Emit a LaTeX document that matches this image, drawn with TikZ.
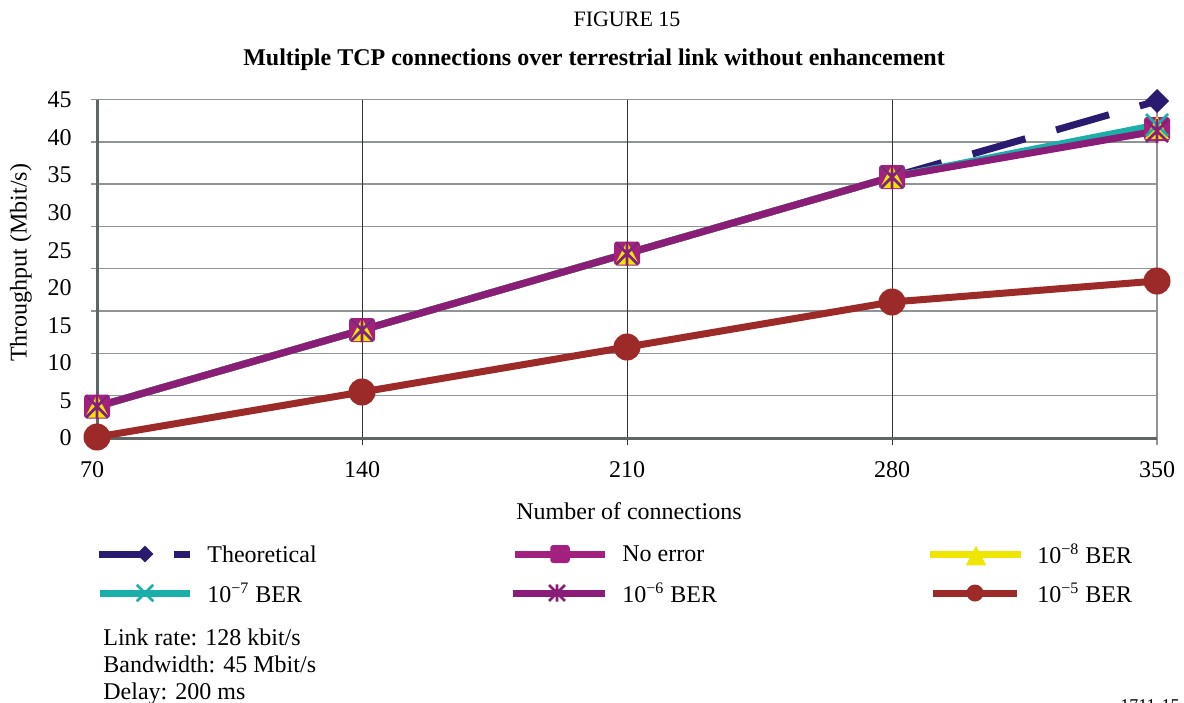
\documentclass[tikz,border=0pt]{standalone}
\usepackage{fontspec}
\setmainfont{Liberation Serif}

\definecolor{cNavy}{RGB}{43,27,112}
\definecolor{cMag}{RGB}{164,32,126}
\definecolor{cYel}{RGB}{238,230,0}
\definecolor{cTeal}{RGB}{26,175,168}
\definecolor{cPur}{RGB}{138,29,120}
\definecolor{cRed}{RGB}{155,42,40}
\definecolor{cGrid}{RGB}{143,148,148}
\definecolor{cAxis}{RGB}{94,102,102}
\definecolor{cVgrid}{RGB}{47,53,53}

\tikzset{
  % plot markers
  diamk/.pic={\fill[cNavy] (0,-12) -- (12,0) -- (0,12) -- (-12,0) -- cycle;},
  sqmk/.pic={\fill[cMag, rounded corners=1.5pt] (-13,-12) rectangle (13,12);},
  trimk/.pic={\fill[cYel] (0,-12) -- (12,11) -- (-12,11) -- cycle;},
  xmk/.pic={\draw[cTeal, line width=1.4pt] (-11,-11) -- (11,11) (-11,11) -- (11,-11);},
  astmk/.pic={\draw[cPur, line width=1.4pt] (-11,-11) -- (11,11) (-11,11) -- (11,-11) (0,-12) -- (0,12);},
  dotmk/.pic={\fill[cRed] (0,0) circle (13.5);},
  % lines
  series/.style={line width=3.5pt, line join=round},
  theo/.style={series, cNavy, dash pattern=on 27.5pt off 16pt, dash phase=22.9pt},
  hgrid/.style={cGrid, line width=0.75pt},
  vgrid/.style={cVgrid, line width=0.5pt},
  axisline/.style={cAxis, line width=1.5pt},
  ylab/.style={anchor=east, inner sep=0pt},
  xlab/.style={anchor=center, inner sep=0pt},
  legtext/.style={anchor=west, inner sep=0pt},
  note/.style={anchor=base west, inner sep=0pt},
}

\begin{document}
\begin{tikzpicture}[x=0.5pt, y=-0.5pt, font=\fontsize{12}{14}\selectfont]
\useasboundingbox (0,0) rectangle (1184,702);
\fill[white] (0,0) rectangle (1184,702);

% headings
\node[anchor=base, inner sep=0pt, font=\fontsize{11}{13}\selectfont] (fig) at (627,26) {FIGURE 15};
\node[anchor=base, inner sep=0pt, font=\fontsize{12}{14}\selectfont\bfseries] (title) at (594,65)
  {Multiple TCP connections over terrestrial link without enhancement};

% horizontal grid lines (with ticks on the left)
\foreach \k in {0,...,7} {
  \draw[hgrid] (91,{99.5+42.3*\k}) -- (1157,{99.5+42.3*\k});
}
% right border
\draw[hgrid] (1157,99.5) -- (1157,445);
% vertical grid lines (with ticks below)
\foreach \gx in {362,627,892} {
  \draw[vgrid] (\gx,99.5) -- (\gx,445);
}
% axes
\draw[axisline] (97,99.5) -- (97,445);
\draw[axisline] (91,438) -- (1157,438);

% y tick labels
\foreach \v/\yy in {45/100,40/138,35/175,30/213,25/251,20/288,15/326,10/363,5/401,0/438} {
  \node[ylab] at (72,\yy) {\v};
}
% x tick labels
\node[xlab] (x70) at (92,470) {70};
\node[xlab] (x140) at (362,470) {140};
\node[xlab] (x210) at (627,470) {210};
\node[xlab] (x280) at (892,470) {280};
\node[xlab] (x350) at (1157,470) {350};

% axis titles
\node[rotate=90, inner sep=0pt] (ytitle) at (21,263) {Throughput (Mbit/s)};
\node[xlab] (xtitle) at (629,511) {Number of connections};

% data points
\coordinate (p1) at (97,406.5);
\coordinate (p2) at (362,330);
\coordinate (p3) at (627,253.5);
\coordinate (p4) at (892,177);
\coordinate (t5) at (1157,101);
\coordinate (n5) at (1157,129);
\coordinate (e85) at (1157,128);
\coordinate (e75) at (1157,125);
\coordinate (e65) at (1157,131);
\coordinate (r1) at (97,437);
\coordinate (r2) at (362,392);
\coordinate (r3) at (627,347);
\coordinate (r4) at (892,302);
\coordinate (r5) at (1157,281);

% series lines
\draw[theo] (p1) -- (p2) -- (p3) -- (p4) -- (t5);
\draw[series, cMag] (p1) -- (p2) -- (p3) -- (p4) -- (n5);
\draw[series, cYel] (p1) -- (p2) -- (p3) -- (p4) -- (e85);
\draw[series, cTeal] (p1) -- (p2) -- (p3) -- (p4) -- (e75);
\draw[series, cPur] (p1) -- (p2) -- (p3) -- (p4) -- (e65);
\draw[series, cRed] (r1) -- (r2) -- (r3) -- (r4) -- (r5);

% series markers
\foreach \c in {p1,p2,p3,p4,t5} { \pic at (\c) {diamk}; }
\foreach \c in {p1,p2,p3,p4,n5} { \pic at (\c) {sqmk}; }
\foreach \c in {p1,p2,p3,p4,e85} { \pic at (\c) {trimk}; }
\foreach \c in {p1,p2,p3,p4,e75} { \pic at (\c) {xmk}; }
\foreach \c in {p1,p2,p3,p4,e65} { \pic at (\c) {astmk}; }
\foreach \c in {r1,r2,r3,r4,r5} { \pic at (\c) {dotmk}; }

% legend, first row
\coordinate (la1) at (99,554);   \coordinate (la2) at (190,554);
\draw[series, cNavy, dash pattern=on 25pt off 12.5pt] (la1) -- (la2);
\pic[scale=0.7] at (145,554) {diamk};
\node[legtext] (lta) at (207,554) {Theoretical};

\coordinate (lb1) at (515,554);  \coordinate (lb2) at (605,554);
\draw[series, cMag] (lb1) -- (lb2);
\pic[scale=0.75] at (560,554) {sqmk};
\node[legtext] (ltb) at (622,554) {No error};

\coordinate (lc1) at (930,554);  \coordinate (lc2) at (1021,554);
\draw[series, cYel] (lc1) -- (lc2);
\pic[scale=0.85] at (976,556) {trimk};
\node[legtext] (ltc) at (1037,554) {10\textsuperscript{−8} BER};

% legend, second row
\coordinate (ld1) at (100,593);  \coordinate (ld2) at (190,593);
\draw[series, cTeal] (ld1) -- (ld2);
\pic[scale=0.75] at (145,593) {xmk};
\node[legtext] (ltd) at (207,593) {10\textsuperscript{−7} BER};

\coordinate (le1) at (513,593);  \coordinate (le2) at (605,593);
\draw[series, cPur] (le1) -- (le2);
\pic[scale=0.72] at (557,593) {astmk};
\node[legtext] (lte) at (622,593) {10\textsuperscript{−6} BER};

\coordinate (lf1) at (933,593);  \coordinate (lf2) at (1017,593);
\draw[series, cRed] (lf1) -- (lf2);
\pic[scale=0.63] at (975,593) {dotmk};
\node[legtext] (ltf) at (1037,593) {10\textsuperscript{−5} BER};

% link parameters
\node[note] (n1) at (103,645) {Link rate: 128 kbit/s};
\node[note] (n2) at (103,672) {Bandwidth: 45 Mbit/s};
\node[note] (n3) at (103,699) {Delay: 200 ms};

% figure reference
\node[anchor=base east, inner sep=0pt, font=\fontsize{9}{10}\selectfont] (ref) at (1180,711) {1711-15};
\end{tikzpicture}
\end{document}
